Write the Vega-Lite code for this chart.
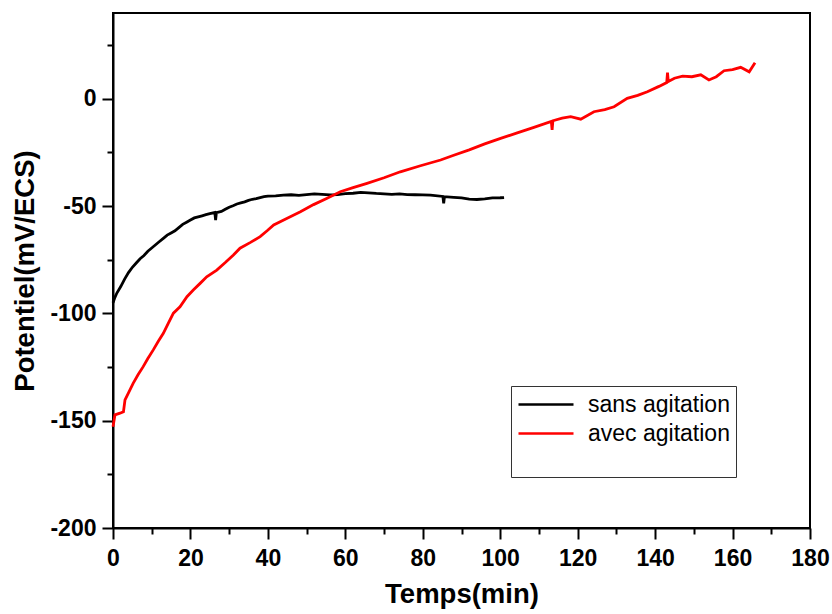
{
  "$schema": "https://vega.github.io/schema/vega-lite/v6.json",
  "width": 697,
  "height": 515,
  "autosize": "none",
  "padding": {"left": 113, "top": 13, "right": 22, "bottom": 86},
  "background": "white",
  "config": {
    "view": {"stroke": "black", "strokeWidth": 2},
    "font": "Liberation Sans",
    "axis": {
      "domainColor": "black", "domainWidth": 2, "tickColor": "black", "tickWidth": 2,
      "grid": false, "labelFont": "Liberation Sans", "labelFontWeight": "bold", "labelFontSize": 23,
      "labelColor": "black", "titleFont": "Liberation Sans", "titleFontWeight": "bold",
      "titleFontSize": 27.5, "titleColor": "black"
    }
  },
  "data": {"values": [
    {"t": 0, "v": -95, "s": "sans agitation"},
    {"t": 0.5, "v": -92.5, "s": "sans agitation"},
    {"t": 1, "v": -90.5, "s": "sans agitation"},
    {"t": 2, "v": -87.5, "s": "sans agitation"},
    {"t": 3, "v": -84, "s": "sans agitation"},
    {"t": 4, "v": -81, "s": "sans agitation"},
    {"t": 5, "v": -78.5, "s": "sans agitation"},
    {"t": 6, "v": -76.5, "s": "sans agitation"},
    {"t": 7, "v": -74.5, "s": "sans agitation"},
    {"t": 8, "v": -73, "s": "sans agitation"},
    {"t": 9, "v": -71, "s": "sans agitation"},
    {"t": 10, "v": -69.5, "s": "sans agitation"},
    {"t": 11, "v": -68, "s": "sans agitation"},
    {"t": 12, "v": -66.5, "s": "sans agitation"},
    {"t": 13, "v": -65, "s": "sans agitation"},
    {"t": 14, "v": -63.5, "s": "sans agitation"},
    {"t": 15, "v": -62.5, "s": "sans agitation"},
    {"t": 16, "v": -61.5, "s": "sans agitation"},
    {"t": 17, "v": -60, "s": "sans agitation"},
    {"t": 18, "v": -58.5, "s": "sans agitation"},
    {"t": 19, "v": -57.5, "s": "sans agitation"},
    {"t": 20, "v": -56.5, "s": "sans agitation"},
    {"t": 21, "v": -55.5, "s": "sans agitation"},
    {"t": 22, "v": -55, "s": "sans agitation"},
    {"t": 23, "v": -54.5, "s": "sans agitation"},
    {"t": 24, "v": -54, "s": "sans agitation"},
    {"t": 25, "v": -53.5, "s": "sans agitation"},
    {"t": 26.3, "v": -53, "s": "sans agitation"},
    {"t": 26.5, "v": -56.5, "s": "sans agitation"},
    {"t": 26.7, "v": -53, "s": "sans agitation"},
    {"t": 28, "v": -52.5, "s": "sans agitation"},
    {"t": 29, "v": -51.5, "s": "sans agitation"},
    {"t": 30, "v": -50.5, "s": "sans agitation"},
    {"t": 31, "v": -49.8, "s": "sans agitation"},
    {"t": 32, "v": -49, "s": "sans agitation"},
    {"t": 33, "v": -48.5, "s": "sans agitation"},
    {"t": 34, "v": -48, "s": "sans agitation"},
    {"t": 35, "v": -47.3, "s": "sans agitation"},
    {"t": 36, "v": -46.8, "s": "sans agitation"},
    {"t": 37, "v": -46.5, "s": "sans agitation"},
    {"t": 38, "v": -46, "s": "sans agitation"},
    {"t": 39, "v": -45.6, "s": "sans agitation"},
    {"t": 40, "v": -45.3, "s": "sans agitation"},
    {"t": 42, "v": -45.2, "s": "sans agitation"},
    {"t": 44, "v": -44.9, "s": "sans agitation"},
    {"t": 46, "v": -44.7, "s": "sans agitation"},
    {"t": 48, "v": -45, "s": "sans agitation"},
    {"t": 50, "v": -44.6, "s": "sans agitation"},
    {"t": 52, "v": -44.3, "s": "sans agitation"},
    {"t": 54, "v": -44.5, "s": "sans agitation"},
    {"t": 56, "v": -44.8, "s": "sans agitation"},
    {"t": 58, "v": -44.6, "s": "sans agitation"},
    {"t": 60, "v": -44.2, "s": "sans agitation"},
    {"t": 62, "v": -44, "s": "sans agitation"},
    {"t": 64, "v": -43.6, "s": "sans agitation"},
    {"t": 66, "v": -43.8, "s": "sans agitation"},
    {"t": 68, "v": -44.1, "s": "sans agitation"},
    {"t": 70, "v": -44.3, "s": "sans agitation"},
    {"t": 72, "v": -44.5, "s": "sans agitation"},
    {"t": 74, "v": -44.3, "s": "sans agitation"},
    {"t": 76, "v": -44.6, "s": "sans agitation"},
    {"t": 78, "v": -44.7, "s": "sans agitation"},
    {"t": 80, "v": -44.8, "s": "sans agitation"},
    {"t": 82, "v": -44.9, "s": "sans agitation"},
    {"t": 85.2, "v": -45.5, "s": "sans agitation"},
    {"t": 85.4, "v": -48.7, "s": "sans agitation"},
    {"t": 85.6, "v": -45.6, "s": "sans agitation"},
    {"t": 88, "v": -45.9, "s": "sans agitation"},
    {"t": 90, "v": -46.2, "s": "sans agitation"},
    {"t": 92, "v": -46.7, "s": "sans agitation"},
    {"t": 94, "v": -46.9, "s": "sans agitation"},
    {"t": 96, "v": -46.6, "s": "sans agitation"},
    {"t": 98, "v": -46.2, "s": "sans agitation"},
    {"t": 100, "v": -46.1, "s": "sans agitation"},
    {"t": 101, "v": -46, "s": "sans agitation"},
    {"t": 0, "v": -152.8, "s": "avec agitation"},
    {"t": 0.5, "v": -147.3, "s": "avec agitation"},
    {"t": 1.8, "v": -146.5, "s": "avec agitation"},
    {"t": 2.7, "v": -145.8, "s": "avec agitation"},
    {"t": 3.1, "v": -140.3, "s": "avec agitation"},
    {"t": 4, "v": -137, "s": "avec agitation"},
    {"t": 5.2, "v": -132.6, "s": "avec agitation"},
    {"t": 6.5, "v": -128.5, "s": "avec agitation"},
    {"t": 7.8, "v": -124.8, "s": "avec agitation"},
    {"t": 9, "v": -121, "s": "avec agitation"},
    {"t": 10.4, "v": -117, "s": "avec agitation"},
    {"t": 11.7, "v": -113, "s": "avec agitation"},
    {"t": 13, "v": -109.3, "s": "avec agitation"},
    {"t": 14.3, "v": -104.5, "s": "avec agitation"},
    {"t": 15.6, "v": -99.9, "s": "avec agitation"},
    {"t": 17.3, "v": -96.9, "s": "avec agitation"},
    {"t": 19.1, "v": -92.2, "s": "avec agitation"},
    {"t": 20.8, "v": -89, "s": "avec agitation"},
    {"t": 22.5, "v": -86, "s": "avec agitation"},
    {"t": 24.2, "v": -82.9, "s": "avec agitation"},
    {"t": 26.8, "v": -79.8, "s": "avec agitation"},
    {"t": 29, "v": -76.3, "s": "avec agitation"},
    {"t": 31.1, "v": -72.8, "s": "avec agitation"},
    {"t": 32.8, "v": -69.6, "s": "avec agitation"},
    {"t": 35.4, "v": -67, "s": "avec agitation"},
    {"t": 38, "v": -64.2, "s": "avec agitation"},
    {"t": 39.8, "v": -61.5, "s": "avec agitation"},
    {"t": 41.5, "v": -58.8, "s": "avec agitation"},
    {"t": 45, "v": -55.6, "s": "avec agitation"},
    {"t": 48.4, "v": -52.6, "s": "avec agitation"},
    {"t": 51.8, "v": -49.3, "s": "avec agitation"},
    {"t": 55.3, "v": -46.3, "s": "avec agitation"},
    {"t": 58.7, "v": -43.3, "s": "avec agitation"},
    {"t": 62, "v": -41.4, "s": "avec agitation"},
    {"t": 65.6, "v": -39.4, "s": "avec agitation"},
    {"t": 70, "v": -36.8, "s": "avec agitation"},
    {"t": 74.2, "v": -34, "s": "avec agitation"},
    {"t": 79.4, "v": -31.2, "s": "avec agitation"},
    {"t": 84.6, "v": -28.5, "s": "avec agitation"},
    {"t": 88, "v": -26.3, "s": "avec agitation"},
    {"t": 92, "v": -23.8, "s": "avec agitation"},
    {"t": 96, "v": -21, "s": "avec agitation"},
    {"t": 100.1, "v": -18.4, "s": "avec agitation"},
    {"t": 104.4, "v": -15.9, "s": "avec agitation"},
    {"t": 108.7, "v": -13.3, "s": "avec agitation"},
    {"t": 113.2, "v": -10.5, "s": "avec agitation"},
    {"t": 113.4, "v": -14.5, "s": "avec agitation"},
    {"t": 113.6, "v": -10.2, "s": "avec agitation"},
    {"t": 116, "v": -9, "s": "avec agitation"},
    {"t": 118.2, "v": -8.3, "s": "avec agitation"},
    {"t": 120.8, "v": -9.5, "s": "avec agitation"},
    {"t": 124.2, "v": -6, "s": "avec agitation"},
    {"t": 127, "v": -5, "s": "avec agitation"},
    {"t": 129.4, "v": -3.7, "s": "avec agitation"},
    {"t": 132.8, "v": 0.2, "s": "avec agitation"},
    {"t": 135.5, "v": 1.6, "s": "avec agitation"},
    {"t": 138, "v": 3.3, "s": "avec agitation"},
    {"t": 141, "v": 5.8, "s": "avec agitation"},
    {"t": 143, "v": 7.6, "s": "avec agitation"},
    {"t": 143.2, "v": 12.2, "s": "avec agitation"},
    {"t": 143.4, "v": 8.1, "s": "avec agitation"},
    {"t": 145, "v": 9.6, "s": "avec agitation"},
    {"t": 147.1, "v": 10.6, "s": "avec agitation"},
    {"t": 149.5, "v": 10.3, "s": "avec agitation"},
    {"t": 151.8, "v": 11.2, "s": "avec agitation"},
    {"t": 153.9, "v": 8.8, "s": "avec agitation"},
    {"t": 155.8, "v": 10.3, "s": "avec agitation"},
    {"t": 157.8, "v": 13.1, "s": "avec agitation"},
    {"t": 160, "v": 13.6, "s": "avec agitation"},
    {"t": 162.1, "v": 14.7, "s": "avec agitation"},
    {"t": 164.3, "v": 12.6, "s": "avec agitation"},
    {"t": 165.8, "v": 16.8, "s": "avec agitation"}
  ]},
  "resolve": {"axis": {"x": "independent", "y": "independent"}},
  "layer": [
    {
      "mark": {"type": "line", "strokeWidth": 2.8, "interpolate": "linear"},
      "encoding": {
        "x": {"field": "t", "type": "quantitative",
              "scale": {"domain": [0, 180], "nice": false, "zero": false},
              "axis": {"orient": "bottom", "title": "Temps(min)", "values": [0, 20, 40, 60, 80, 100, 120, 140, 160, 180],
                       "tickSize": 11, "labelPadding": 8, "titlePadding": 10, "labelFlush": false, "labelOverlap": false,
                       "labelExpr": "replace(datum.label, '\u2212', '-')",
                       "encode": {"labels": {"update": {"fontWeight": {"value": "bold"}, "fontSize": {"value": 23}, "font": {"value": "Liberation Sans"}}}}}},
        "y": {"field": "v", "type": "quantitative",
              "scale": {"domain": [-200, 40], "nice": false, "zero": false},
              "axis": {"orient": "left", "title": "Potentiel(mV/ECS)", "values": [-200, -150, -100, -50, 0],
                       "tickSize": 11, "labelPadding": 6, "titlePadding": 10, "labelFlush": false, "labelOverlap": false,
                       "labelExpr": "replace(datum.label, '\u2212', '-')",
                       "encode": {"labels": {"update": {"fontWeight": {"value": "bold"}, "fontSize": {"value": 23}, "font": {"value": "Liberation Sans"}}}}}},
        "color": {"field": "s", "type": "nominal",
                  "scale": {"domain": ["sans agitation", "avec agitation"], "range": ["#000000", "#ff0000"]},
                  "legend": {"orient": "none", "legendX": 398, "legendY": 373, "title": " ", "titleOrient": "bottom",
                             "titleFontSize": 22, "titlePadding": 4, "strokeColor": "#333333", "padding": 6,
                             "symbolType": "M-1,0H4", "symbolSize": 484, "symbolStrokeWidth": 2.5,
                             "labelFont": "Liberation Sans", "labelFontSize": 23, "labelColor": "black",
                             "labelOffset": 46, "rowPadding": 4, "labelLimit": 0, "fillColor": "white"}}
      }
    },
    {
      "mark": {"type": "line", "strokeOpacity": 0},
      "encoding": {
        "x": {"field": "t", "type": "quantitative",
              "axis": {"orient": "bottom", "title": null, "labels": false, "domain": false,
                       "values": [10, 30, 50, 70, 90, 110, 130, 150, 170], "tickSize": 6}},
        "y": {"field": "v", "type": "quantitative",
              "axis": {"orient": "left", "title": null, "labels": false, "domain": false,
                       "values": [-175, -125, -75, -25, 25], "tickSize": 6}},
        "detail": {"field": "s"}
      }
    }
  ]
}
